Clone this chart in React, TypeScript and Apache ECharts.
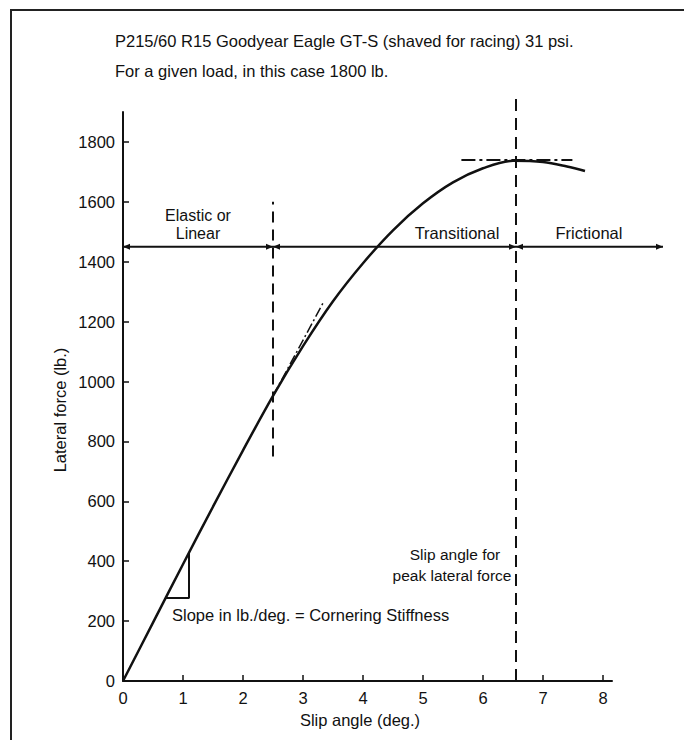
import React, { useEffect, useRef } from "react";
import * as echarts from "echarts";

// ---- data ----
const slipAngle = [0, 0.5, 1.0, 1.5, 2.0, 2.5, 3.0, 3.5, 4.0, 4.5, 5.0, 5.5, 6.0, 6.5, 7.0, 7.4, 7.7];
const lateralForce = [0, 195, 390, 582, 770, 952, 1118, 1268, 1395, 1505, 1595, 1665, 1712, 1737, 1733, 1718, 1703];

const xTicks = [0, 1, 2, 3, 4, 5, 6, 7, 8];
const yTicks = [0, 200, 400, 600, 800, 1000, 1200, 1400, 1600, 1800];

const regionLineForce = 1450;
const regionBounds = [0, 2.5, 6.55, 9.0];

const linearLimitAngle = 2.5;
const linearLimitForce = [750, 1600];
const peakAngle = 6.55;
const peakLineForce = [0, 1955];

const linearTangentAngle = [2.5, 3.35];
const linearTangentForce = [952, 1268];
const peakTangentAngle = [5.64, 7.49];
const peakTangentForce = [1740, 1740];

const triangleAngle = [0.7, 1.1, 1.1];
const triangleForce = [277, 277, 429];

const titleLines = [
  "P215/60 R15 Goodyear Eagle GT-S (shaved for racing) 31 psi.",
  "For a given load, in this case 1800 lb.",
];
const regionLabels = ["Elastic or", "Linear", "Transitional", "Frictional"];
const peakNote = ["Slip angle for", "peak lateral force"];
const slopeNote = "Slope in lb./deg. = Cornering Stiffness";
const xName = "Slip angle (deg.)";
const yName = "Lateral force (lb.)";

const FONT = "'Liberation Sans', Arial, Helvetica, sans-serif";
const INK = "#111";

function zip(xs: number[], ys: number[]) {
  return xs.map((x, i) => [x, ys[i]]);
}

export default function App() {
  const ref = useRef<HTMLDivElement>(null);
  useEffect(() => {
    if (!ref.current) return;
    const chart = echarts.init(ref.current, null, { renderer: "svg" });

    const arrowData: number[][] = [];
    for (let i = 0; i < regionBounds.length - 1; i++) {
      arrowData.push([regionBounds[i], regionLineForce, -1]);
      arrowData.push([regionBounds[i + 1], regionLineForce, 1]);
    }

    const txt = (text: string, x: number, y: number, extra: any = {}) => ({
      type: "text",
      x,
      y,
      silent: true,
      style: {
        text,
        fill: INK,
        font: `16.5px ${FONT}`,
        align: "left",
        verticalAlign: "middle",
        ...extra,
      },
    });

    const option: any = {
      animation: false,
      backgroundColor: "#fff",
      grid: { left: 123, top: 112, right: 72, bottom: 59, containLabel: false, outerBoundsMode: "none" },
      xAxis: {
        type: "value",
        min: 0,
        max: 8.15,
        splitLine: { show: false },
        axisLine: { show: true, lineStyle: { color: INK, width: 2 } },
        axisTick: { show: true, inside: true, length: 6, lineStyle: { color: INK, width: 1.5 }, customValues: xTicks },
        axisLabel: {
          color: INK,
          fontSize: 16.5,
          fontFamily: FONT,
          margin: 8,
          customValues: xTicks,
          formatter: (v: number) => String(v),
        },
      },
      yAxis: {
        type: "value",
        min: 0,
        max: 1900,
        splitLine: { show: false },
        axisLine: { show: true, lineStyle: { color: INK, width: 2 } },
        axisTick: { show: true, inside: true, length: 6, lineStyle: { color: INK, width: 1.5 }, customValues: yTicks },
        axisLabel: {
          color: INK,
          fontSize: 16.5,
          fontFamily: FONT,
          margin: 8,
          customValues: yTicks,
          formatter: (v: number) => String(v),
        },
      },
      series: [
        {
          type: "line",
          data: zip(slipAngle, lateralForce),
          smooth: 0.35,
          showSymbol: false,
          lineStyle: { color: INK, width: 2.5 },
          z: 5,
        },
        {
          // region boundary line with arrow heads (extends past the x axis end)
          type: "custom",
          coordinateSystem: "cartesian2d",
          clip: false,
          data: [[regionBounds[0], regionBounds[regionBounds.length - 1], regionLineForce]],
          renderItem: (_params: any, api: any) => {
            const a = api.coord([api.value(0), api.value(2)]);
            const b = api.coord([api.value(1), api.value(2)]);
            return {
              type: "line",
              shape: { x1: a[0], y1: a[1], x2: b[0], y2: b[1] },
              style: { stroke: INK, lineWidth: 2 },
            };
          },
        },
        {
          type: "custom",
          coordinateSystem: "cartesian2d",
          clip: false,
          data: arrowData,
          renderItem: (_params: any, api: any) => {
            const p = api.coord([api.value(0), api.value(1)]);
            const d = api.value(2);
            const L = 7;
            const W = 3;
            return {
              type: "polygon",
              shape: {
                points: [
                  [p[0], p[1]],
                  [p[0] - d * L, p[1] - W],
                  [p[0] - d * L, p[1] + W],
                ],
              },
              style: { fill: INK },
            };
          },
        },
        {
          type: "line",
          data: [
            [linearLimitAngle, linearLimitForce[0]],
            [linearLimitAngle, linearLimitForce[1]],
          ],
          clip: false,
          showSymbol: false,
          lineStyle: { color: INK, width: 2, type: [11, 7] },
        },
        {
          type: "line",
          data: [
            [peakAngle, peakLineForce[0]],
            [peakAngle, peakLineForce[1]],
          ],
          clip: false,
          showSymbol: false,
          lineStyle: { color: INK, width: 2, type: [12, 7] },
        },
        {
          type: "line",
          data: zip(linearTangentAngle, linearTangentForce),
          clip: false,
          showSymbol: false,
          lineStyle: { color: INK, width: 1.5, type: [10, 3, 2, 3] },
        },
        {
          type: "line",
          data: zip(peakTangentAngle, peakTangentForce),
          clip: false,
          showSymbol: false,
          lineStyle: { color: INK, width: 2, type: [14, 4, 3, 4] },
        },
        {
          type: "line",
          data: zip(triangleAngle, triangleForce),
          clip: false,
          showSymbol: false,
          lineStyle: { color: INK, width: 2 },
        },
      ],
      graphic: [
        { type: "line", shape: { x1: 10, y1: 10, x2: 684, y2: 10 }, style: { stroke: "#222", lineWidth: 2 } },
        { type: "line", shape: { x1: 11, y1: 10, x2: 11, y2: 740 }, style: { stroke: "#222", lineWidth: 2 } },
        txt(titleLines[0], 115, 41),
        txt(titleLines[1], 115, 71),
        txt(regionLabels[0], 198, 215, { align: "center", font: `16px ${FONT}` }),
        txt(regionLabels[1], 198, 233, { align: "center", font: `16px ${FONT}` }),
        txt(regionLabels[2], 457, 233, { align: "center" }),
        txt(regionLabels[3], 589, 233, { align: "center" }),
        txt(peakNote[0], 455, 554, { align: "center", font: `15.5px ${FONT}` }),
        txt(peakNote[1], 452, 575, { align: "center", font: `15.5px ${FONT}` }),
        txt(slopeNote, 172, 615),
        txt(xName, 360, 720, { align: "center" }),
        {
          type: "text",
          x: 60,
          y: 410,
          rotation: Math.PI / 2,
          silent: true,
          style: { text: yName, fill: INK, font: `16.5px ${FONT}`, align: "center", verticalAlign: "middle" },
        },
      ],
    };

    chart.setOption(option);
    return () => chart.dispose();
  }, []);

  return (
    <div
      ref={ref}
      style={{ position: "fixed", left: 0, top: 0, width: 684, height: 740, background: "#fff" }}
    />
  );
}
